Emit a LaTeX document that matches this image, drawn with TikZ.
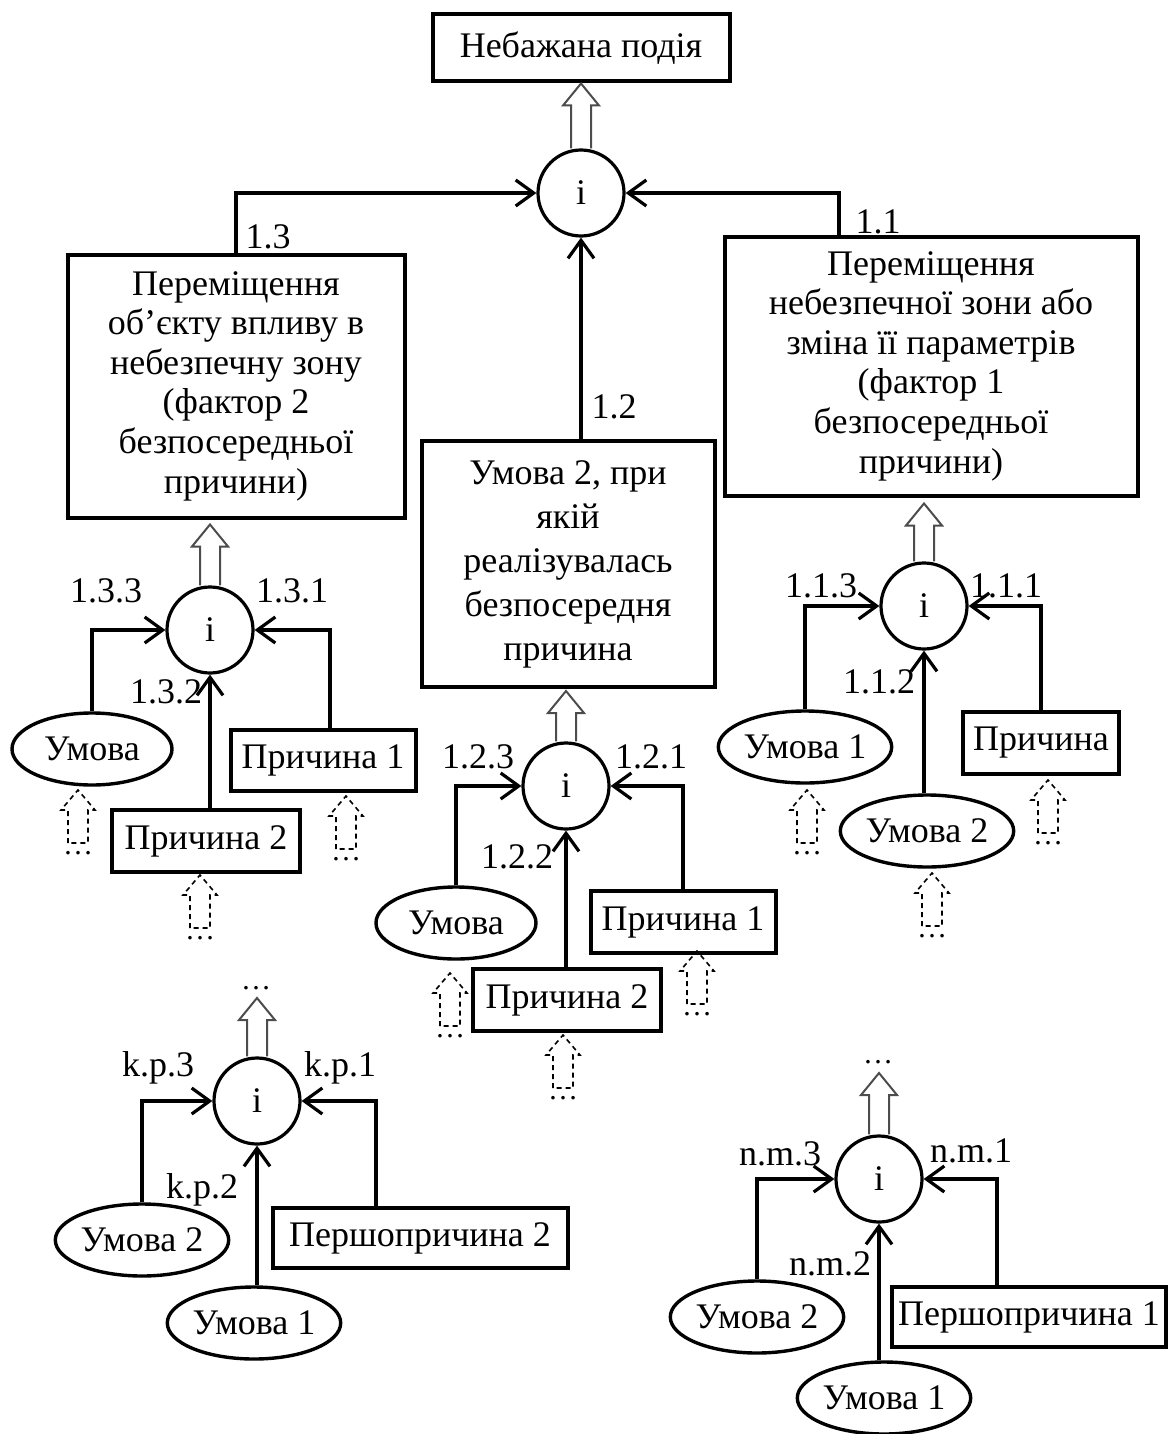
\documentclass[tikz,border=0pt]{standalone}
\usepackage{fontspec}
\setmainfont{Liberation Serif}
\usepackage{tikz}
\usetikzlibrary{positioning,arrows.meta,calc,shapes.geometric}

\tikzset{
  event/.style={draw, line width=2pt, align=center, inner sep=0pt},
  cond/.style={draw, ellipse, line width=1.7pt, minimum width=80pt, minimum height=36pt, inner sep=0pt},
  gate/.style={draw, circle, line width=1.6pt, minimum size=43pt, inner sep=0pt},
  num/.style={anchor=base, inner sep=0pt},
  link/.style={line width=2pt, -{Straight Barb[length=9pt,width=13pt,line width=1.6pt]}},
  fat/.style={line width=1pt, draw=black!70},
  feed/.style={line width=0.8pt, dash pattern=on 2.5pt off 2pt},
  more/.style={inner sep=0pt, font=\fontsize{15}{15}\selectfont},
}

% hollow arrow: gate below, point at the height of the tip
\newcommand{\fatarrow}[2]{%
  \draw[fat] ($(#1.north)+(-10,0)$) -- ($(#1.north |- #2)+(-10,22)$) -- ($(#1.north |- #2)+(-18,22)$)
    -- (#1.north |- #2) -- ($(#1.north |- #2)+(18,22)$) -- ($(#1.north |- #2)+(10,22)$) -- ($(#1.north)+(10,0)$);}
% dashed hollow arrow above the dots: name, place of the dots
\newcommand{\feedarrow}[2]{%
  \node[more] (#1) at (#2) {\ldots};
  \draw[feed] ($(#1.center)+(-10,-10)$) -- ++(0,-33) -- ++(-7,0) -- ++(17,-20)
    -- ++(17,20) -- ++(-7,0) -- ++(0,33) -- cycle;}

\begin{document}
\begin{tikzpicture}[x=0.5pt, y=-0.5pt, font=\fontsize{18}{19.8}\selectfont]
  \useasboundingbox (0,0) rectangle (1168,1434);

  % top event
  \node[event, minimum width=148.5pt, minimum height=33.5pt] (b0) at (581,48) {Небажана подія};
  \node[gate] (g0) at (581,193) {i};
  \fatarrow{g0}{b0.south}

  \node[event, minimum width=168.5pt, minimum height=131.5pt] (b13) at (236,386)
    {Переміщення\\об’єкту впливу в\\небезпечну зону\\(фактор 2\\безпосередньої\\причини)};
  \node[event, minimum width=146.5pt, minimum height=123pt, font=\fontsize{18}{22}\selectfont] (b12) at (568,564)
    {Умова 2, при\\якій\\реалізувалась\\безпосередня\\причина};
  \node[event, minimum width=206.5pt, minimum height=129.5pt] (b11) at (931,366)
    {Переміщення\\небезпечної зони або\\зміна її параметрів\\(фактор 1\\безпосередньої\\причини)};

  \draw[link] (b13.north) |- (g0.west);
  \draw[link] ($(b11.north west)!0.28!(b11.north east)$) |- (g0.east);
  \draw[link] (g0.south |- b12.north) -- (g0.south);
  \node[num] at (268,248) {1.3};
  \node[num] at (614,418) {1.2};
  \node[num] at (878,233) {1.1};

  % 1.3
  \node[gate] (g13) at (210,630) {i};
  \coordinate (t13) at ($(b13.south)+(0,5)$);
  \fatarrow{g13}{t13}
  \node[cond] (u133) at (92,749) {Умова};
  \node[event, minimum width=92.5pt, minimum height=30.5pt] (p131) at (323,760) {Причина 1};
  \node[event, minimum width=94pt, minimum height=31pt] (p132) at (206,841) {Причина 2};
  \draw[link] (u133.north) |- (g13.west);
  \draw[link] ($(p131.north)+(7,0)$) |- (g13.east);
  \draw[link] (g13.south |- p132.north) -- (g13.south);
  \node[num] at (106,602) {1.3.3};
  \node[num] at (292,602) {1.3.1};
  \node[num] at (166,703) {1.3.2};
  \feedarrow{d133}{78,853}
  \feedarrow{d131}{346,859}
  \feedarrow{d132}{200,938}

  % 1.2
  \node[gate] (g12) at (566,786) {i};
  \coordinate (t12) at ($(b12.south)+(0,2)$);
  \fatarrow{g12}{t12}
  \node[cond] (u123) at (456,923) {Умова};
  \node[event, minimum width=92.5pt, minimum height=31pt] (p121) at (683,922) {Причина 1};
  \node[event, minimum width=94pt, minimum height=31pt] (p122) at (567,1000) {Причина 2};
  \draw[link] (u123.north) |- (g12.west);
  \draw[link] (p121.north) |- (g12.east);
  \draw[link] (g12.south |- p122.north) -- (g12.south);
  \node[num] at (478,768) {1.2.3};
  \node[num] at (651,768) {1.2.1};
  \node[num] at (517,868) {1.2.2};
  \feedarrow{d123}{450,1036}
  \feedarrow{d121}{697,1014}
  \feedarrow{d122}{563,1098}

  % 1.1
  \node[gate] (g11) at (924,606) {i};
  \coordinate (t11) at ($(b11.south)+(0,6)$);
  \fatarrow{g11}{t11}
  \node[cond] (u113) at (805,747) {Умова 1};
  \node[event, minimum width=78pt, minimum height=31pt] (p111) at (1041,743) {Причина};
  \node[cond] (u112) at (927,831) {Умова 2};
  \draw[link] (u113.north) |- (g11.west);
  \draw[link] (p111.north) |- (g11.east);
  \draw[link] (g11.south |- u112.north) -- (g11.south);
  \node[num] at (821,597) {1.1.3};
  \node[num] at (1006,597) {1.1.1};
  \node[num] at (879,693) {1.1.2};
  \feedarrow{d113}{807,853}
  \feedarrow{d111}{1048,843}
  \feedarrow{d112}{932,936}

  % k.p
  \node[more] (kpmore) at (256,988) {\ldots};
  \coordinate (kptip) at ($(kpmore.center)+(0,10)$);
  \node[gate] (gkp) at (257,1101) {i};
  \fatarrow{gkp}{kptip}
  \node[cond] (ukp3) at (142,1240) {Умова 2};
  \node[event, minimum width=147.5pt, minimum height=30pt] (pkp1) at (420,1238) {Першопричина 2};
  \node[cond] (ukp2) at (254,1323) {Умова 1};
  \draw[link] (ukp3.north) |- (gkp.west);
  \draw[link] ($(pkp1.north)+(-44,0)$) |- (gkp.east);
  \draw[link] (gkp.south |- ukp2.north) -- (gkp.south);
  \node[num] at (158,1076) {k.p.3};
  \node[num] at (340,1076) {k.p.1};
  \node[num] at (202,1198) {k.p.2};

  % n.m
  \node[more] (nmmore) at (878,1062) {\ldots};
  \coordinate (nmtip) at ($(nmmore.center)+(0,11)$);
  \node[gate] (gnm) at (879,1179) {i};
  \fatarrow{gnm}{nmtip}
  \node[cond] (unm3) at (757,1317) {Умова 2};
  \node[event, minimum width=137pt, minimum height=30pt] (pnm1) at (1029,1317) {Першопричина 1};
  \node[cond] (unm2) at (884,1398) {Умова 1};
  \draw[link] (unm3.north) |- (gnm.west);
  \draw[link] ($(pnm1.north)+(-32,0)$) |- (gnm.east);
  \draw[link] (gnm.south |- unm2.north) -- (gnm.south);
  \node[num] at (780,1165) {n.m.3};
  \node[num] at (971,1162) {n.m.1};
  \node[num] at (830,1275) {n.m.2};
\end{tikzpicture}
\end{document}
